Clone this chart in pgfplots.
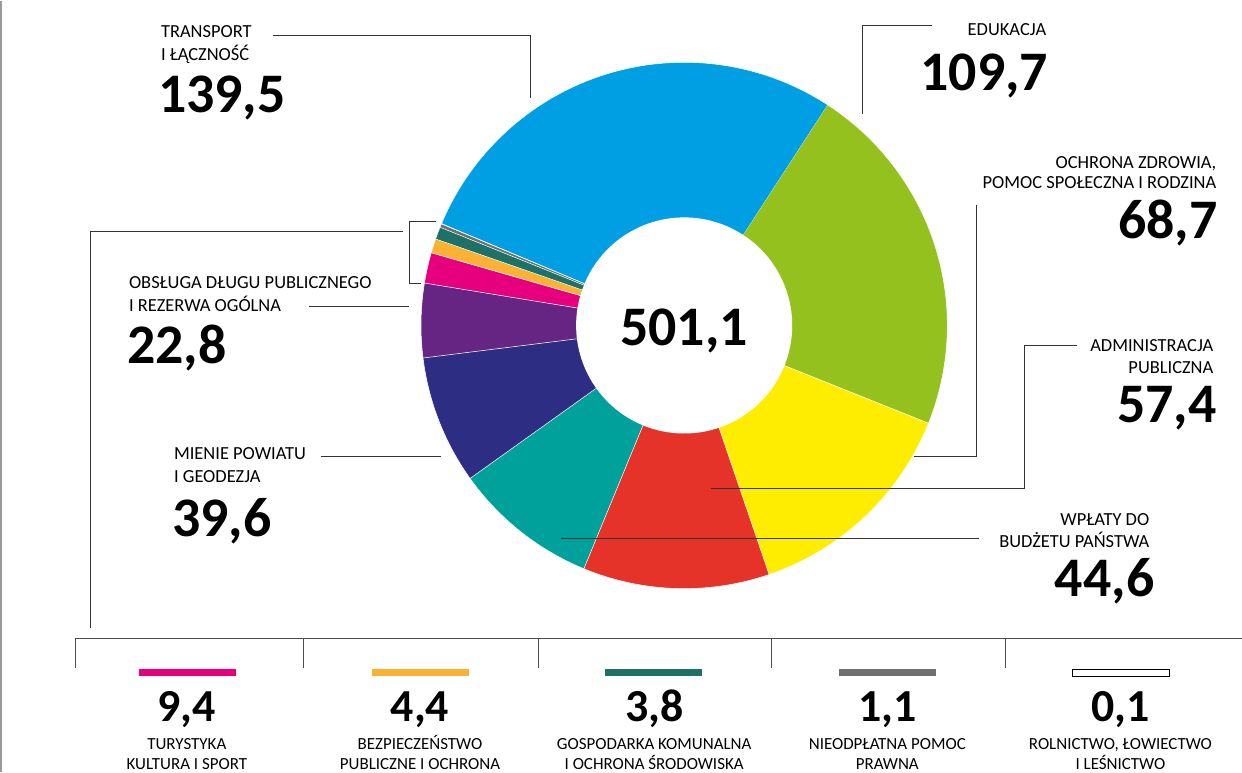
\documentclass[border=0pt]{standalone}
\usepackage{pgfplots}
\pgfplotsset{compat=1.18}
\usepackage{fontspec}
\setmainfont{Carlito}
\definecolor{cBlue}{HTML}{009FE3}
\definecolor{cGreen}{HTML}{95C11F}
\definecolor{cYellow}{HTML}{FFED00}
\definecolor{cRed}{HTML}{E6332A}
\definecolor{cTeal}{HTML}{00A19A}
\definecolor{cNavy}{HTML}{2D2E83}
\definecolor{cPurple}{HTML}{662483}
\definecolor{cPink}{HTML}{E6007E}
\definecolor{cOrange}{HTML}{F9B233}
\definecolor{cDTeal}{HTML}{1D7167}
\definecolor{cGray}{HTML}{6F6F6F}
\newcommand{\lab}{\fontsize{18.5}{20}\selectfont}
\newcommand{\slab}{\fontsize{17}{19}\selectfont}
\newcommand{\bignum}{\fontsize{56}{60}\selectfont\bfseries}
\newcommand{\midnum}{\fontsize{46}{50}\selectfont\bfseries}
% slice: start angle, end angle, colour (donut centre 685,324.5; outer radius 263)
\newcommand{\slice}[3]{\addplot[fill=#3,draw=white,line width=0.5bp,samples at={-1,0,1,...,60},variable=\t]
 ({685+(\t<0?0:263)*cos(#1+(#2-#1)*max(\t,0)/60)},{324.5-(\t<0?0:263)*sin(#1+(#2-#1)*max(\t,0)/60)});}
\begin{document}
\begin{tikzpicture}
\pgfmathsetmacro\T{501.1}
\pgfmathsetmacro\aA{57}
\pgfmathsetmacro\aB{\aA-109.7/\T*360}% Edukacja
\pgfmathsetmacro\aC{\aB-68.7/\T*360}% Ochrona zdrowia
\pgfmathsetmacro\aD{\aC-57.4/\T*360}% Administracja
\pgfmathsetmacro\aE{\aD-44.6/\T*360}% Wplaty
\pgfmathsetmacro\aF{\aE-39.6/\T*360}% Mienie
\pgfmathsetmacro\aG{\aF-22.8/\T*360}% Obsluga dlugu
\pgfmathsetmacro\aH{\aG-9.4/\T*360}% Turystyka
\pgfmathsetmacro\aI{\aH-4.4/\T*360}% Bezpieczenstwo
\pgfmathsetmacro\aJ{\aI-3.8/\T*360}% Gospodarka
\pgfmathsetmacro\aK{\aJ-1.1/\T*360}% Nieodplatna
\pgfmathsetmacro\aL{\aK-0.1/\T*360}% Rolnictwo
\pgfmathsetmacro\aM{\aL-139.5/\T*360}% Transport
\begin{axis}[width=1242bp,height=771bp,scale only axis,xmin=0,xmax=1242,ymin=0,ymax=771,
  y dir=reverse,hide axis,clip=false]
\slice{\aA}{\aB}{cGreen}
\slice{\aB}{\aC}{cYellow}
\slice{\aC}{\aD}{cRed}
\slice{\aD}{\aE}{cTeal}
\slice{\aE}{\aF}{cNavy}
\slice{\aF}{\aG}{cPurple}
\slice{\aG}{\aH}{cPink}
\slice{\aH}{\aI}{cOrange}
\slice{\aI}{\aJ}{cDTeal}
\slice{\aJ}{\aK}{cGray}
\slice{\aK}{\aL}{white}
\slice{\aL}{\aM}{cBlue}
\addplot[fill=white,draw=none,domain=0:360,samples=120,variable=\t] ({685+108*cos(\t)},{324.5-108*sin(\t)});
% legend swatches
\addplot[fill=cPink,draw=none] coordinates {(140,668) (237,668) (237,675) (140,675)} --cycle;
\addplot[fill=cOrange,draw=none] coordinates {(373,668) (470,668) (470,675) (373,675)} --cycle;
\addplot[fill=cDTeal,draw=none] coordinates {(606,668) (703,668) (703,675) (606,675)} --cycle;
\addplot[fill=cGray,draw=none] coordinates {(840,668) (937,668) (937,675) (840,675)} --cycle;
\addplot[fill=white,draw=black,line width=0.8bp] coordinates {(1073,668) (1170,668) (1170,675) (1073,675)} --cycle;
% frame and leaders
\draw[color=gray!80,line width=1.5bp] (2,0) -- (2,771);
\draw[color=black!80,line width=0.8bp] (274,35) -- (531,35) -- (531,97);
\draw[color=black!80,line width=0.8bp] (933,25) -- (863,25) -- (863,113);
\draw[color=black!80,line width=0.8bp] (977,204) -- (977,455) -- (915,455);
\draw[color=black!80,line width=0.8bp] (1078,344) -- (1025,344) -- (1025,487) -- (712,487);
\draw[color=black!80,line width=0.8bp] (980,537) -- (562,537);
\draw[color=black!80,line width=0.8bp] (322,455) -- (442,455);
\draw[color=black!80,line width=0.8bp] (310,305) -- (410,305);
\draw[color=black!80,line width=0.8bp] (437,221) -- (410,221) -- (410,282) -- (422,282);
\draw[color=black!80,line width=0.8bp] (404,231) -- (92,231) -- (92,627);
\draw[color=black!70,line width=1bp] (77,667) -- (77,637) -- (1242,637);
\draw[color=black!70,line width=1bp] (305,637) -- (305,667);
\draw[color=black!70,line width=1bp] (539,637) -- (539,667);
\draw[color=black!70,line width=1bp] (772,637) -- (772,667);
\draw[color=black!70,line width=1bp] (1006,637) -- (1006,667);
% labels
\node[anchor=base west,inner sep=0] at (162,37) {\lab TRANSPORT};
\node[anchor=base west,inner sep=0] at (162,60) {\lab I ŁĄCZNOŚĆ};
\node[anchor=base west,inner sep=0] at (159,112) {\bignum 139,5};
\node[anchor=base east,inner sep=0] at (1047,35) {\lab EDUKACJA};
\node[anchor=base east,inner sep=0] at (1049,90) {\bignum 109,7};
\node[anchor=base east,inner sep=0] at (1217,168) {\lab OCHRONA ZDROWIA,};
\node[anchor=base east,inner sep=0] at (1217,188) {\lab POMOC SPOŁECZNA I RODZINA};
\node[anchor=base east,inner sep=0] at (1218,238) {\bignum 68,7};
\node[anchor=base east,inner sep=0] at (1214,351) {\lab ADMINISTRACJA};
\node[anchor=base east,inner sep=0] at (1214,373) {\lab PUBLICZNA};
\node[anchor=base east,inner sep=0] at (1217,421) {\bignum 57,4};
\node[anchor=base east,inner sep=0] at (1150,524) {\lab WPŁATY DO};
\node[anchor=base east,inner sep=0] at (1150,546) {\lab BUDŻETU PAŃSTWA};
\node[anchor=base east,inner sep=0] at (1155,595) {\bignum 44,6};
\node[anchor=base west,inner sep=0] at (130,288) {\lab OBSŁUGA DŁUGU PUBLICZNEGO};
\node[anchor=base west,inner sep=0] at (130,311) {\lab I REZERWA OGÓLNA};
\node[anchor=base west,inner sep=0] at (128,363) {\bignum 22,8};
\node[anchor=base west,inner sep=0] at (175,458) {\lab MIENIE POWIATU};
\node[anchor=base west,inner sep=0] at (175,481) {\lab I GEODEZJA};
\node[anchor=base west,inner sep=0] at (173,535) {\bignum 39,6};
\node[anchor=base,inner sep=0] at (685,345) {\bignum 501,1};
% bottom legend
\node[anchor=base,inner sep=0] at (188,720) {\midnum 9,4};
\node[anchor=base,inner sep=0] at (421,720) {\midnum 4,4};
\node[anchor=base,inner sep=0] at (655,720) {\midnum 3,8};
\node[anchor=base,inner sep=0] at (888,720) {\midnum 1,1};
\node[anchor=base,inner sep=0] at (1121,720) {\midnum 0,1};
\node[anchor=base,inner sep=0] at (188,748) {\slab TURYSTYKA};
\node[anchor=base,inner sep=0] at (188,768) {\slab KULTURA I SPORT};
\node[anchor=base,inner sep=0] at (421,748) {\slab BEZPIECZEŃSTWO};
\node[anchor=base,inner sep=0] at (421,768) {\slab PUBLICZNE I OCHRONA};
\node[anchor=base,inner sep=0] at (655,748) {\slab GOSPODARKA KOMUNALNA};
\node[anchor=base,inner sep=0] at (655,768) {\slab I OCHRONA ŚRODOWISKA};
\node[anchor=base,inner sep=0] at (888,748) {\slab NIEODPŁATNA POMOC};
\node[anchor=base,inner sep=0] at (888,768) {\slab PRAWNA};
\node[anchor=base,inner sep=0] at (1121,748) {\slab ROLNICTWO, ŁOWIECTWO};
\node[anchor=base,inner sep=0] at (1121,768) {\slab I LEŚNICTWO};
\end{axis}
\end{tikzpicture}
\end{document}
